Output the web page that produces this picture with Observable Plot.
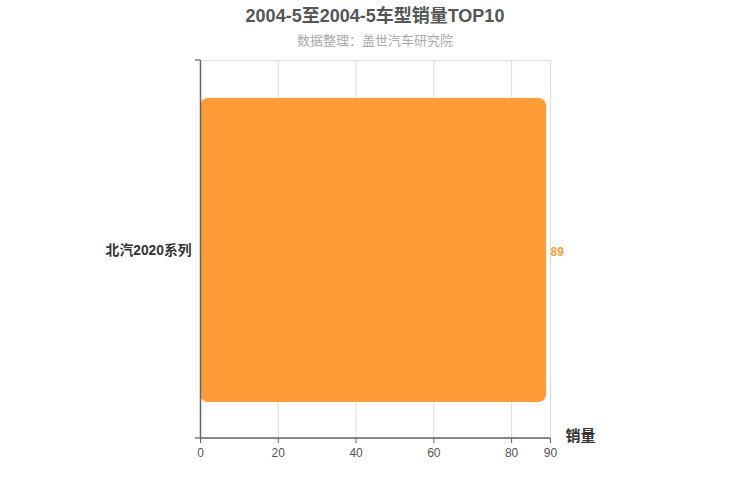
<!DOCTYPE html>
<html><head><meta charset="utf-8">
<script src="https://cdn.jsdelivr.net/npm/d3@7"></script>
<script src="https://cdn.jsdelivr.net/npm/@observablehq/plot@0.6"></script>
<style>
body{margin:0;background:#fff;font-family:"Liberation Sans","Noto Sans CJK SC",sans-serif;}
#wrap{width:750px;}
#title{height:30px;line-height:32px;text-align:center;font-size:18px;font-weight:bold;color:#555;}
#sub{height:20px;line-height:21px;text-align:center;font-size:13px;color:#aaa;}
</style></head>
<body><div id="wrap">
<div id="title">2004-5至2004-5车型销量TOP10</div>
<div id="sub">数据整理：盖世汽车研究院</div>
<div id="chart"></div></div>
<script>
const categories = ["北汽2020系列"];
const sales = [89];
const xTicks = [0, 20, 40, 60, 80, 90];
const axisName = "销量";

const data = categories.map((c, i) => ({name: c, value: sales[i]}));

const chart = Plot.plot({
  width: 750,
  height: 450,
  marginTop: 10,
  marginBottom: 62,
  marginLeft: 200,
  marginRight: 200,
  style: {fontFamily: '"Liberation Sans","Noto Sans CJK SC",sans-serif', background: "#fff"},
  x: {domain: [0, 90], ticks: xTicks},
  y: {domain: categories, padding: 0},
  marks: [
    Plot.frame({stroke: "#ddd"}),
    Plot.gridX(xTicks, {stroke: "#ddd", strokeOpacity: 1}),
    Plot.barX(data, {x: "value", y: "name", fill: "#ff9c35", insetTop: 38, insetBottom: 36, rx: 8}),
    Plot.text(data, {x: "value", y: "name", text: d => String(d.value), textAnchor: "start", dx: 4, dy: 3, fill: "#ff9c35", fontWeight: "bold", fontSize: 12}),
    Plot.ruleX([0], {stroke: "#666", strokeWidth: 1.5}),
    Plot.axisX(xTicks, {tickSize: 5, tickPadding: 5, fontSize: 12, color: "#555", stroke: "#666", label: null}),
    Plot.axisY({tickSize: 0, tickPadding: 9, dy: 1, fontSize: 13.8, fontWeight: "bold", fill: "#333", label: null}),
    Plot.text([axisName], {frameAnchor: "bottom-right", dx: 15, dy: 2, textAnchor: "start", fontSize: 15, fontWeight: "bold", fill: "#333"})
  ]
});
document.getElementById("chart").appendChild(chart);

// axis baseline and band-edge ticks, derived from scales
const xs = chart.scale("x"), ys = chart.scale("y");
const [x0, x1] = xs.range;
const [y0, y1] = ys.range;
const svg = d3.select(chart);
svg.append("line").attr("x1", x0).attr("x2", x1).attr("y1", y1).attr("y2", y1).attr("stroke", "#666").attr("stroke-width", 1.5);
[y0, y1].forEach(y => svg.append("line").attr("x1", x0 - 5).attr("x2", x0).attr("y1", y).attr("y2", y).attr("stroke", "#666").attr("stroke-width", 1.2));
</script>
</body></html>
